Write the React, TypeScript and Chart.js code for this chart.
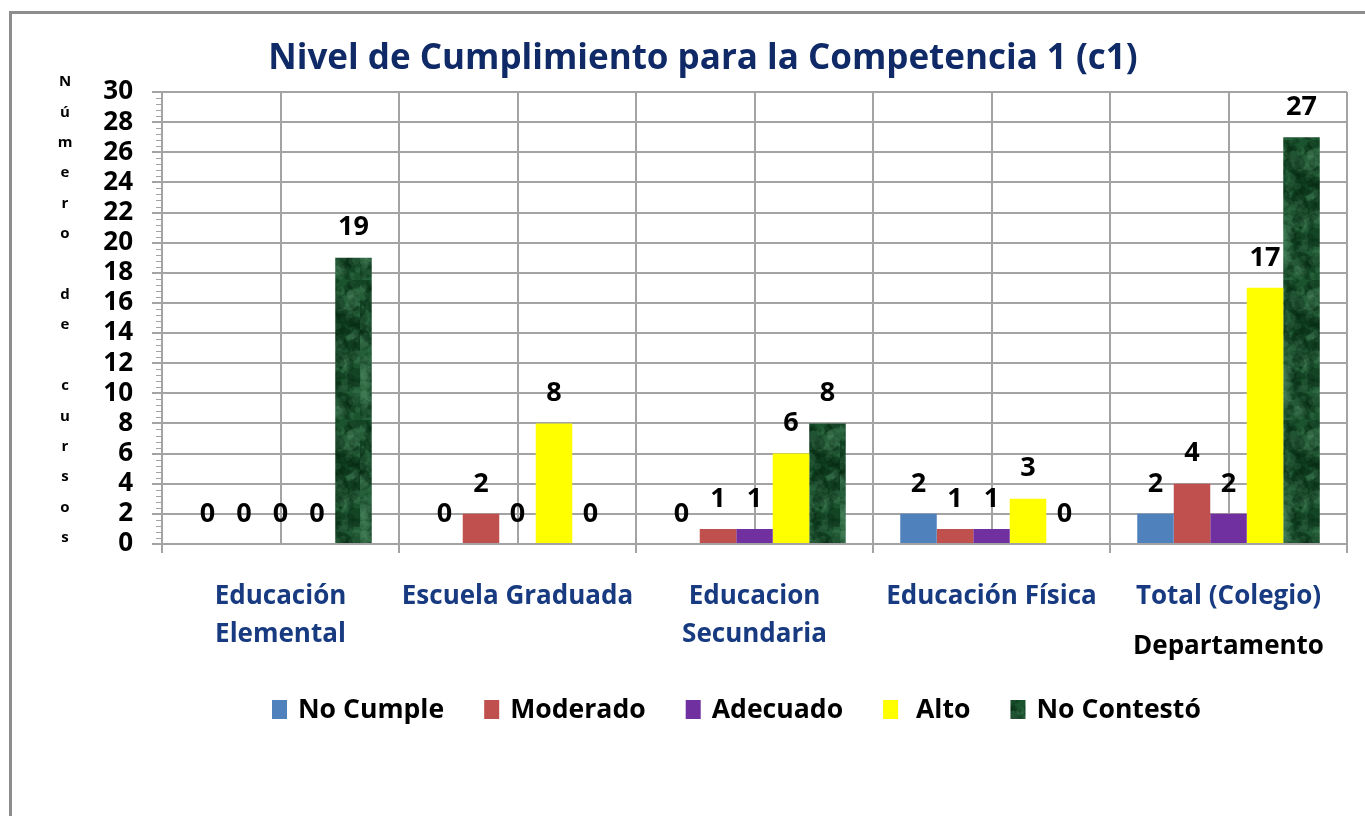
import React, { useEffect, useRef } from "react";
import { Chart, registerables } from "chart.js";

Chart.register(...registerables);

const categories: (string | string[])[] = [
  ["Educación", "Elemental"],
  "Escuela Graduada",
  ["Educacion", "Secundaria"],
  "Educación Física",
  "Total (Colegio)",
];
const seriesNames = ["No Cumple", "Moderado", "Adecuado", " Alto", "No Contestó"];
const noCumple = [0, 0, 0, 2, 2];
const moderado = [0, 2, 1, 1, 4];
const adecuado = [0, 0, 1, 1, 2];
const alto = [0, 8, 6, 3, 17];
const noContesto = [19, 0, 8, 0, 27];
const yMin = 0;
const yMax = 30;
const yStep = 2;
const titleText = "Nivel de Cumplimiento para la Competencia 1 (c1)";
const yTitle = "Número de cursos";
const xTitle = "Departamento";

const FONT = "'Open Sans', Lato, sans-serif";
const NAVY = "#0f2a66";
const CAT = "#173a80";
const GRID = "#a3a3a3";

function makeGreenPattern(ctx: CanvasRenderingContext2D) {
  const c = document.createElement("canvas");
  c.width = 40;
  c.height = 140;
  const g = c.getContext("2d")!;
  g.fillStyle = "#1a532e";
  g.fillRect(0, 0, c.width, c.height);
  const hash = (n: number) => {
    const s = Math.sin(n * 127.1 + 311.7) * 43758.5453;
    return s - Math.floor(s);
  };
  for (let i = 0; i < 260; i++) {
    const x = hash(i) * c.width;
    const y = hash(i + 1000) * c.height;
    const r = 1 + hash(i + 2000) * 7;
    const light = hash(i + 3000) > 0.5;
    g.fillStyle = light ? "rgba(90,150,110,0.18)" : "rgba(5,35,15,0.28)";
    g.beginPath();
    g.ellipse(x, y, r, r * (0.5 + hash(i + 4000)), hash(i + 5000) * 3, 0, Math.PI * 2);
    g.fill();
  }
  return ctx.createPattern(c, "repeat")!;
}

const decorPlugin = {
  id: "decor",
  beforeDatasetsDraw(chart: any) {
    const { ctx, chartArea, scales } = chart;
    const x = scales.x;
    const y = scales.y;
    ctx.save();
    ctx.strokeStyle = GRID;
    ctx.lineWidth = 2;
    for (let i = 0; i < categories.length; i++) {
      const px = Math.round(x.getPixelForValue(i));
      ctx.beginPath();
      ctx.moveTo(px, chartArea.top);
      ctx.lineTo(px, chartArea.bottom);
      ctx.stroke();
    }
    ctx.lineWidth = 1;
    for (let v = yMin; v <= yMax + 1e-6; v += yStep / 5) {
      const py = Math.round(y.getPixelForValue(v)) + 0.5;
      ctx.beginPath();
      ctx.moveTo(chartArea.left - 6, py);
      ctx.lineTo(chartArea.left, py);
      ctx.stroke();
    }
    ctx.restore();
  },
  afterDatasetsDraw(chart: any) {
    const { ctx } = chart;
    ctx.save();
    ctx.font = `bold 27px ${FONT}`;
    ctx.fillStyle = "#000";
    ctx.textAlign = "center";
    ctx.textBaseline = "middle";
    chart.data.datasets.forEach((ds: any, di: number) => {
      const meta = chart.getDatasetMeta(di);
      meta.data.forEach((bar: any, i: number) => {
        ctx.fillText(String(ds.data[i]), bar.x, bar.y - 30);
      });
    });
    ctx.restore();
  },
  afterDraw(chart: any) {
    const { ctx, scales } = chart;
    ctx.save();
    ctx.font = `bold 35px ${FONT}`;
    ctx.fillStyle = NAVY;
    ctx.textAlign = "center";
    ctx.textBaseline = "middle";
    ctx.fillText(titleText, 703, 59);
    ctx.font = `bold 15px ${FONT}`;
    ctx.fillStyle = "#000";
    const chars = Array.from(yTitle);
    chars.forEach((ch, i) => {
      if (ch !== " ") ctx.fillText(ch, 65, 82 + i * 30.4);
    });
    ctx.font = `bold 26px ${FONT}`;
    ctx.fillText(xTitle, scales.x.getPixelForValue(categories.length - 1), 647);
    ctx.font = `bold 26.6px ${FONT}`;
    ctx.textAlign = "left";
    let lx = 272;
    const ly = 709;
    chart.data.datasets.forEach((ds: any) => {
      ctx.fillStyle = ds.backgroundColor;
      ctx.fillRect(lx, ly - 9, 15, 19);
      ctx.fillStyle = "#000";
      const tx = lx + 26;
      ctx.fillText(ds.label, tx, ly + 1);
      lx = tx + ctx.measureText(ds.label).width + 40;
    });
    ctx.restore();
  },
};

export default function App() {
  const ref = useRef<HTMLCanvasElement | null>(null);
  useEffect(() => {
    const canvas = ref.current!;
    const ctx = canvas.getContext("2d")!;
    const green = makeGreenPattern(ctx);
    const series = [noCumple, moderado, adecuado, alto, noContesto];
    const colors: any[] = ["#4f81bd", "#c0504d", "#7030a0", "#ffff00", green];
    const chart = new Chart(canvas, {
      type: "bar",
      data: {
        labels: categories,
        datasets: series.map((d, i) => ({
          label: seriesNames[i],
          data: d,
          backgroundColor: colors[i],
          borderWidth: 0,
          barPercentage: 1,
          categoryPercentage: 0.77,
        })),
      },
      options: {
        animation: false,
        responsive: false,
        maintainAspectRatio: false,
        layout: { padding: { left: 0, right: 18, top: 92, bottom: 0 } },
        plugins: {
          legend: { display: false },
          title: { display: false },
          tooltip: { enabled: false },
        },
        scales: {
          x: {
            grid: {
              offset: true,
              color: GRID,
              lineWidth: 2,
              tickLength: 9,
              drawOnChartArea: true,
            },
            border: { color: GRID, width: 2 },
            ticks: {
              color: CAT,
              font: { family: FONT, size: 26, weight: "bold", lineHeight: 1.46 },
              padding: 25,
              maxRotation: 0,
              autoSkip: false,
            },
            afterFit(scale: any) {
              scale.height = 816 - 544;
            },
          },
          y: {
            min: yMin,
            max: yMax,
            ticks: {
              stepSize: yStep,
              color: "#000",
              font: { family: FONT, size: 26, weight: "bold", lineHeight: 1 },
              padding: 19,
            },
            grid: { color: GRID, lineWidth: 2, tickLength: 10 },
            border: { color: GRID, width: 2 },
            afterFit(scale: any) {
              scale.width = 162;
            },
          },
        },
      },
      plugins: [decorPlugin],
    });
    return () => chart.destroy();
  }, []);
  return (
    <div style={{ position: "absolute", left: 0, top: 0, width: 1365, height: 816, overflow: "hidden", background: "#fff" }}>
      <div
        style={{
          position: "absolute",
          left: 9,
          top: 11,
          width: 1400,
          height: 900,
          border: "3px solid #8d8d8d",
          boxSizing: "border-box",
        }}
      />
      <canvas ref={ref} width={1365} height={816} style={{ position: "absolute", left: 0, top: 0, width: 1365, height: 816 }} />
    </div>
  );
}
